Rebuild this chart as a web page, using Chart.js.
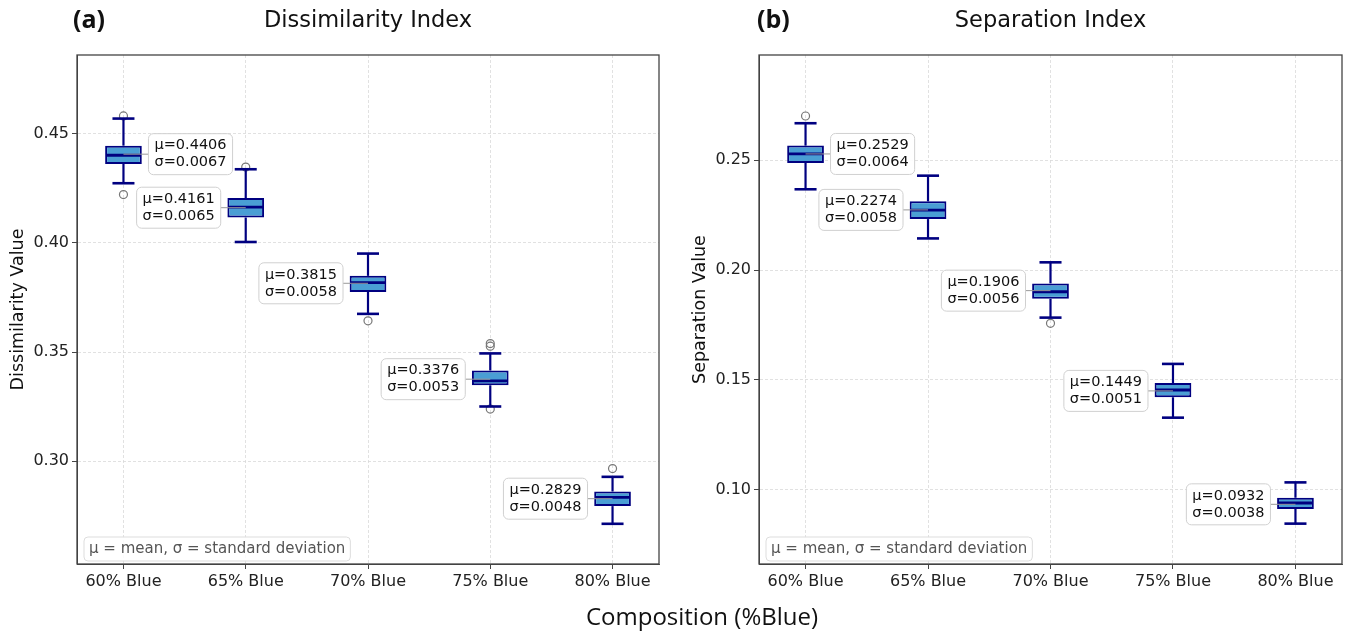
<!DOCTYPE html>
<html>
<head>
<meta charset="utf-8">
<script src="https://cdn.jsdelivr.net/npm/chart.js@4.4.1/dist/chart.umd.min.js"></script>
<style>
  body { margin: 0; background: #fff; width: 1348px; height: 633px; overflow: hidden; position: relative; }
  #wrapA { position: absolute; left: 0; top: 0; }
  #wrapB { position: absolute; left: 680px; top: 0; }
  #xtitle { position: absolute; left: 502px; width: 400px; top: 601px; text-align: center;
            font-family: 'Open Sans'; font-size: 24px; line-height: 30px; color: #111; }
</style>
</head>
<body>
<div id="wrapA"><canvas id="chartA" width="680" height="633"></canvas></div>
<div id="wrapB"><canvas id="chartB" width="668" height="633"></canvas></div>
<div id="xtitle">Composition (%Blue)</div>
<script>
// ============================= DATA
const categories = ['60% Blue', '65% Blue', '70% Blue', '75% Blue', '80% Blue'];

// (a) Dissimilarity Index
const dissMean = [0.4406, 0.4161, 0.3815, 0.3376, 0.2829];
const dissStd  = [0.0067, 0.0065, 0.0058, 0.0053, 0.0048];
const dissLow  = [0.4273, 0.4004, 0.3675, 0.3251, 0.2714];
const dissQ1   = [0.4361, 0.4116, 0.3775, 0.3348, 0.2795];
const dissMed  = [0.4401, 0.4164, 0.3818, 0.3368, 0.2835];
const dissQ3   = [0.4445, 0.4205, 0.3849, 0.3416, 0.2862];
const dissHigh = [0.4569, 0.4337, 0.3951, 0.3494, 0.2929];
const dissOutliers = [[0.4581, 0.4221], [0.4347], [0.3643], [0.3539, 0.3527, 0.3239], [0.2967]];
const dissTicks = [0.30, 0.35, 0.40, 0.45];

// (b) Separation Index
const sepMean = [0.2529, 0.2274, 0.1906, 0.1449, 0.0932];
const sepStd  = [0.0064, 0.0058, 0.0056, 0.0051, 0.0038];
const sepLow  = [0.2368, 0.2144, 0.1783, 0.1327, 0.0844];
const sepQ1   = [0.2488, 0.2232, 0.1869, 0.1420, 0.0911];
const sepMed  = [0.2529, 0.2273, 0.1901, 0.1453, 0.0938];
const sepQ3   = [0.2567, 0.2313, 0.1939, 0.1485, 0.0962];
const sepHigh = [0.2669, 0.2430, 0.2035, 0.1572, 0.1032];
const sepOutliers = [[0.2702], [], [0.1757], [], []];
const sepTicks = [0.10, 0.15, 0.20, 0.25];

const FONT = 'DejaVu Sans';

// ============================= whiskers, medians, labels, frame
const boxExtras = {
  id: 'boxExtras',
  afterDatasetsDraw(chart, args, o) {
    const { ctx, chartArea: area, scales: { x, y } } = chart;
    const line = (x1, y1, x2, y2) => { ctx.beginPath(); ctx.moveTo(x1, y1); ctx.lineTo(x2, y2); ctx.stroke(); };
    ctx.save();
    ctx.strokeStyle = '#000080';
    for (let i = 0; i < o.med.length; i++) {
      const cx = x.getPixelForValue(i);
      const capL = x.getPixelForValue(i - 0.09), capR = x.getPixelForValue(i + 0.09);
      const boxL = x.getPixelForValue(i - 0.15), boxR = x.getPixelForValue(i + 0.15);
      ctx.lineWidth = 2.2;
      line(cx, y.getPixelForValue(o.q3[i]), cx, y.getPixelForValue(o.high[i]));
      line(cx, y.getPixelForValue(o.q1[i]), cx, y.getPixelForValue(o.low[i]));
      ctx.lineWidth = 2.6;
      line(capL, y.getPixelForValue(o.high[i]), capR, y.getPixelForValue(o.high[i]));
      line(capL, y.getPixelForValue(o.low[i]), capR, y.getPixelForValue(o.low[i]));
      ctx.lineWidth = 2.8;
      line(boxL + 1, y.getPixelForValue(o.med[i]), boxR - 1, y.getPixelForValue(o.med[i]));
    }

    // mean / std labels
    ctx.font = '14.5px ' + FONT;
    ctx.textBaseline = 'middle';
    ctx.textAlign = 'left';
    for (let i = 0; i < o.mean.length; i++) {
      const cx = x.getPixelForValue(i);
      const cy = y.getPixelForValue(o.mean[i]);
      const l1 = 'μ=' + o.mean[i].toFixed(4);
      const l2 = 'σ=' + o.std[i].toFixed(4);
      const w = Math.max(ctx.measureText(l1).width, ctx.measureText(l2).width) + 12;
      const h = 41;
      const bx = i === 0 ? cx + 25 : cx - 25 - w;
      ctx.strokeStyle = '#999';
      ctx.lineWidth = 1;
      line(cx, cy, i === 0 ? bx : bx + w, cy);
      ctx.beginPath();
      ctx.roundRect(bx, cy - h / 2, w, h, 5);
      ctx.fillStyle = 'rgba(255,255,255,0.92)';
      ctx.fill();
      ctx.strokeStyle = '#d0d0d0';
      ctx.stroke();
      ctx.fillStyle = '#111';
      ctx.fillText(l1, bx + 6, cy - 8.5);
      ctx.fillText(l2, bx + 6, cy + 8.5);
    }

    // footnote
    ctx.font = '15px ' + FONT;
    const note = 'μ = mean, σ = standard deviation';
    const nw = ctx.measureText(note).width + 10;
    ctx.beginPath();
    ctx.roundRect(area.left + 7, area.bottom - 27, nw, 24, 4);
    ctx.fillStyle = 'rgba(255,255,255,0.85)';
    ctx.fill();
    ctx.strokeStyle = '#dddddd';
    ctx.lineWidth = 1;
    ctx.stroke();
    ctx.fillStyle = '#555';
    ctx.fillText(note, area.left + 12, area.bottom - 15);

    // frame
    ctx.strokeStyle = '#444';
    ctx.lineWidth = 1.3;
    ctx.strokeRect(area.left, area.top, area.right - area.left, area.bottom - area.top);

    // titles
    ctx.fillStyle = '#111';
    ctx.textAlign = 'center';
    ctx.font = '22.5px ' + FONT;
    ctx.fillText(o.title, (area.left + area.right) / 2, 21);
    ctx.textAlign = 'left';
    ctx.font = 'bold 25px "Open Sans"';
    ctx.fillText(o.tag, o.tagX, 21);
    ctx.restore();
  }
};

function makeChart(canvasId, cfg) {
  const outlierPts = [];
  cfg.outliers.forEach((arr, i) => arr.forEach(v => outlierPts.push({ x: i, y: v })));

  return new Chart(document.getElementById(canvasId).getContext('2d'), {
    type: 'bar',
    data: {
      datasets: [{
        type: 'bar',
        data: cfg.q1.map((v, i) => ({ x: i, y: [v, cfg.q3[i]] })),
        backgroundColor: '#4a9ed4',
        borderColor: '#000080',
        borderWidth: 2,
        borderSkipped: false,
        categoryPercentage: 1,
        barPercentage: 0.3
      }, {
        type: 'scatter',
        data: outlierPts,
        pointStyle: 'circle',
        pointRadius: 4,
        pointBorderWidth: 1.2,
        pointBackgroundColor: 'rgba(0,0,0,0)',
        pointBorderColor: '#777'
      }]
    },
    options: {
      responsive: false,
      animation: false,
      layout: { padding: { left: 0, top: 55, right: cfg.padRight, bottom: 29 } },
      plugins: {
        legend: { display: false },
        tooltip: { enabled: false },
        boxExtras: {
          mean: cfg.mean, std: cfg.std, low: cfg.low, q1: cfg.q1, med: cfg.med, q3: cfg.q3, high: cfg.high,
          title: cfg.title, tag: cfg.tag, tagX: cfg.tagX
        }
      },
      scales: {
        x: {
          type: 'linear',
          min: -0.38, max: 4.38,
          offset: false,
          afterBuildTicks: s => { s.ticks = categories.map((c, i) => ({ value: i })); },
          afterFit: s => { s.height = 40; },
          ticks: {
            callback: v => categories[v],
            font: { family: FONT, size: 16 }, color: '#222', padding: 3, maxRotation: 0
          },
          grid: { color: '#d9d9d9', lineWidth: 0.8, offset: false, tickLength: 5, tickColor: '#444', tickBorderDash: [], tickWidth: 1 },
          border: { display: true, color: '#444', width: 1, dash: [3, 2] }
        },
        y: {
          type: 'linear',
          min: cfg.yMin, max: cfg.yMax,
          afterBuildTicks: s => { s.ticks = cfg.ticks.map(v => ({ value: v })); },
          afterFit: s => { s.width = cfg.yWidth; },
          ticks: {
            callback: v => v.toFixed(2),
            font: { family: FONT, size: 16 }, color: '#222', padding: 3
          },
          grid: { color: '#d9d9d9', lineWidth: 0.8, tickLength: 5, tickColor: '#444', tickBorderDash: [], tickWidth: 1 },
          border: { display: true, color: '#444', width: 1, dash: [3, 2] },
          title: {
            display: true, text: cfg.yTitle,
            font: { family: FONT, size: 17.5 }, color: '#111',
            padding: { top: cfg.titlePad, bottom: 0 }
          }
        }
      }
    },
    plugins: [boxExtras]
  });
}

makeChart('chartA', {
  mean: dissMean, std: dissStd, low: dissLow, q1: dissQ1, med: dissMed, q3: dissQ3, high: dissHigh,
  outliers: dissOutliers, ticks: dissTicks, yMin: 0.253, yMax: 0.486,
  title: 'Dissimilarity Index', tag: '(a)', tagX: 73, yTitle: 'Dissimilarity Value',
  yWidth: 77, padRight: 21, titlePad: 7.5
});

makeChart('chartB', {
  mean: sepMean, std: sepStd, low: sepLow, q1: sepQ1, med: sepMed, q3: sepQ3, high: sepHigh,
  outliers: sepOutliers, ticks: sepTicks, yMin: 0.066, yMax: 0.298,
  title: 'Separation Index', tag: '(b)', tagX: 77, yTitle: 'Separation Value',
  yWidth: 79, padRight: 6, titlePad: 9.5
});
</script>
</body>
</html>
